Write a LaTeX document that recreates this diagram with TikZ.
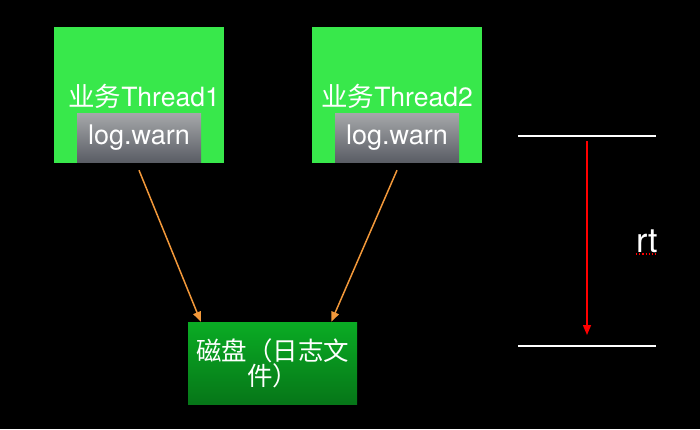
\documentclass[tikz,border=0pt]{standalone}
\usepackage{fontspec}
\setmainfont{TeX Gyre Heros}
\newfontfamily\cjk{Noto Sans CJK SC}
\usetikzlibrary{arrows.meta}

\definecolor{threadgreen}{RGB}{56,232,75}
\definecolor{disktop}{RGB}{10,172,36}
\definecolor{diskbottom}{RGB}{6,118,24}
\definecolor{logtop}{RGB}{166,168,170}
\definecolor{logbottom}{RGB}{90,93,101}
\definecolor{callorange}{RGB}{242,152,58}

\begin{document}
\begin{tikzpicture}
    [
      x=1pt, y=-1pt,
      thread/.style={fill=threadgreen, minimum width=170pt, minimum height=136pt, inner sep=0pt},
      title/.style={text=white, inner sep=0pt, font=\fontsize{26.5}{30}\selectfont},
      logbox/.style={top color=logtop, bottom color=logbottom, minimum width=124pt,
        minimum height=49pt, inner sep=0pt, text=white, font=\fontsize{27}{30}\selectfont},
      disk/.style={top color=disktop, bottom color=diskbottom, minimum width=169pt,
        minimum height=82pt, inner sep=0pt, text=white, align=center,
        font=\cjk\fontsize{25.5}{25}\selectfont},
      call/.style={draw=callorange, line width=1.5pt, -{Triangle[length=10pt,width=8pt]}},
      level/.style={draw=white, line width=1.5pt},
    ]
    %
    \fill [black] (0, 0) rectangle (700, 429);
    \useasboundingbox (0, 0) rectangle (700, 429);

    % threads
    \node [thread] (thread1) at (139, 95) {};
    \node [thread] (thread2) at (397, 95) {};
    \node [title] (name1) at (144, 96) {{\cjk 业务}Thread1};
    \node [title] (name2) at (397, 96) {{\cjk 业务}Thread2};
    \node [logbox] (log1) at (139, 137.5) {log.warn};
    \node [logbox] (log2) at (397, 137.5) {log.warn};

    % disk
    \node [disk] (disk) at (272.5, 363) {磁盘（日志文\\件）};

    \draw [call] ([yshift=-8pt]log1.south) -- ([xshift=13pt]disk.north west);
    \draw [call] ([yshift=-8pt]log2.south) -- ([xshift=-26pt]disk.north east);

    % rt
    \coordinate (top west) at (518, 136);
    \coordinate (top east) at (656, 136);
    \coordinate (bottom west) at (518, 346);
    \coordinate (bottom east) at (656, 346);
    \draw [level] (top west) -- (top east);
    \draw [level] (bottom west) -- (bottom east);
    \coordinate (rt start) at (587, 141);
    \coordinate (rt end) at (587, 335);
    \draw [red, line width=1.5pt, -{Triangle[length=10pt,width=8pt]}] (rt start) -- (rt end);
    \node [text=white, inner sep=0pt, anchor=base, font=\fontsize{34}{34}\selectfont] (rt) at (647, 252) {rt};
    \draw [red, dotted, line width=1.2pt] ([yshift=-2pt]rt.base west) -- ([yshift=-2pt]rt.base east);
  \end{tikzpicture}
\end{document}
